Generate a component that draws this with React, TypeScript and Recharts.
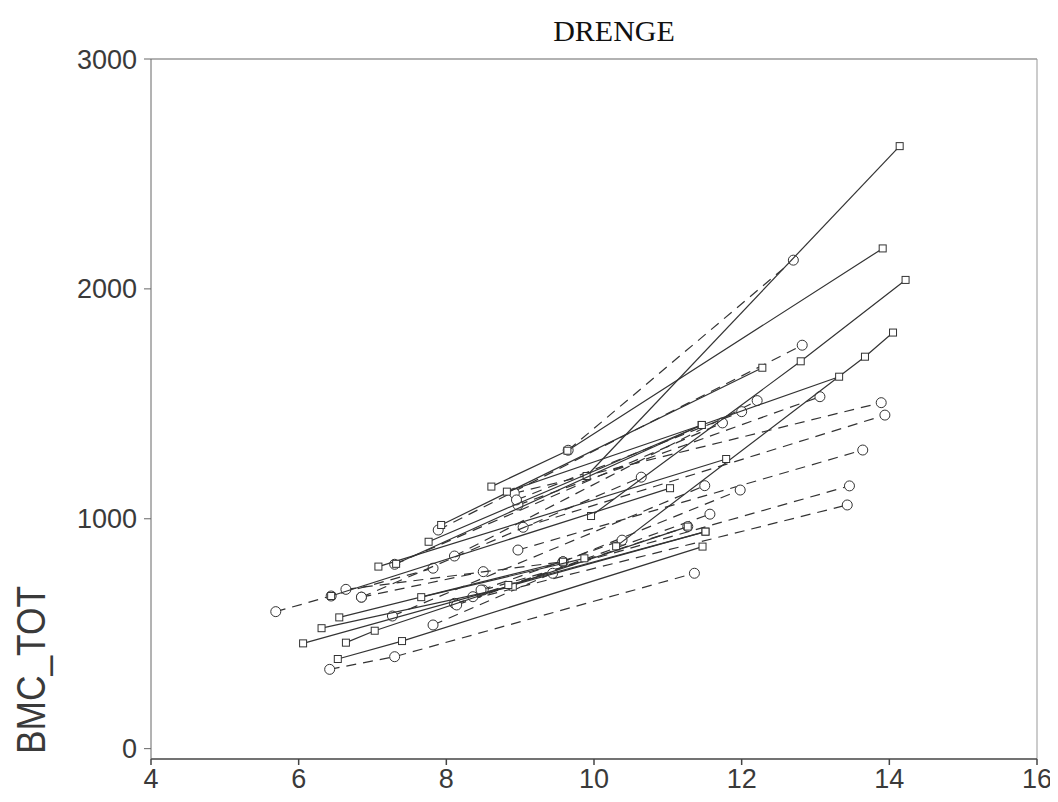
import React from 'react';
import { ScatterChart, Scatter, XAxis, YAxis, ReferenceLine } from 'recharts';

const ageTicks = [4, 6, 8, 10, 12, 14, 16];
const bmcTicks = [0, 1000, 2000, 3000];

// solid lines, square markers (one row per boy)
const solidAge = [
  [9.9, 14.14],
  [8.61, 9.64, 13.91],
  [9.96, 12.8, 14.22],
  [7.93, 12.28],
  [10.3, 13.67, 14.05],
  [7.76, 11.46, 13.32],
  [7.08, 11.79],
  [6.44, 11.03],
  [6.55, 9.58],
  [6.06, 11.51],
  [6.64, 7.03, 11.27],
  [6.53, 7.4, 11.47],
  [6.31, 8.9],
  [7.32, 11.46],
  [8.84, 11.51],
  [7.66, 9.87],
  [8.82, 11.46],
];
const solidBmc = [
  [1186, 2621],
  [1140, 1296, 2176],
  [1012, 1685, 2039],
  [973, 1657],
  [880, 1705, 1810],
  [900, 1408, 1618],
  [792, 1260],
  [664, 1133],
  [571, 813],
  [458, 944],
  [461, 513, 966],
  [390, 468, 879],
  [524, 705],
  [804, 1408],
  [712, 944],
  [659, 828],
  [1118, 1408],
];

// dashed lines, circle markers
const dashedAge = [
  [9.65, 12.7],
  [7.89, 12.82],
  [8.11, 12.21],
  [8.97, 13.06],
  [8.92, 13.89],
  [9.04, 13.94],
  [8.97, 13.64],
  [8.5, 13.46],
  [8.11, 13.43],
  [5.69, 6.44, 7.82],
  [6.42, 7.3, 11.36],
  [6.85, 8.5],
  [7.3, 11.74],
  [8.14, 11.57],
  [7.27, 11.5],
  [8.95, 12.0],
  [9.58, 11.98],
  [6.85, 10.64],
  [8.36, 11.27],
  [6.64, 9.58],
  [7.82, 9.44],
  [8.47, 10.38],
];
const dashedBmc = [
  [1298, 2125],
  [951, 1755],
  [838, 1514],
  [1060, 1531],
  [1111, 1505],
  [963, 1451],
  [864, 1299],
  [690, 1143],
  [632, 1060],
  [596, 664, 785],
  [345, 400, 763],
  [659, 770],
  [802, 1417],
  [625, 1020],
  [577, 1144],
  [1082, 1466],
  [813, 1125],
  [659, 1181],
  [661, 966],
  [693, 813],
  [538, 763],
  [690, 907],
];

const toPoints = (ages: number[], bmc: number[]) => ages.map((a, i) => ({ age: a, bmc: bmc[i] }));

const INK = '#333';

const Square = (props: any) => (
  <rect x={props.cx - 3.5} y={props.cy - 3.5} width={7} height={7} fill="#fff" stroke={INK} strokeWidth={1} />
);
const Ring = (props: any) => (
  <circle cx={props.cx} cy={props.cy} r={5} fill="#fff" stroke={INK} strokeWidth={1} />
);

const tickStyle = { fontFamily: '"Liberation Sans", Arial, sans-serif', fontSize: 27, fill: '#3a3a3a' };

export default function App() {
  return (
    <div style={{ position: 'relative', width: 1050, height: 786, background: '#fff' }}>
      <ScatterChart width={1050} height={786} margin={{ top: 51, right: 21, bottom: 5, left: 63 }}>
        <XAxis
          type="number"
          dataKey="age"
          domain={[4, 16]}
          ticks={ageTicks}
          tick={tickStyle}
          tickSize={6}
          tickMargin={4}
          height={30}
          stroke="#444"
          strokeWidth={1.5}
          allowDataOverflow
        />
        <YAxis
          type="number"
          dataKey="bmc"
          domain={[-45, 3000]}
          ticks={bmcTicks}
          tick={tickStyle}
          tickSize={7}
          tickMargin={7}
          width={80}
          stroke="#666"
          allowDataOverflow
        />
        <ReferenceLine y={3000} stroke="#666" strokeWidth={1.2} />
        <ReferenceLine x={16} stroke="#999" strokeWidth={1} />
        {dashedAge.map((ages, i) => (
          <Scatter
            key={`d${i}`}
            data={toPoints(ages, dashedBmc[i])}
            line={{ stroke: INK, strokeWidth: 1.2, strokeDasharray: '10 7' }}
            shape={Ring}
            isAnimationActive={false}
          />
        ))}
        {solidAge.map((ages, i) => (
          <Scatter
            key={`s${i}`}
            data={toPoints(ages, solidBmc[i])}
            line={{ stroke: INK, strokeWidth: 1.2 }}
            shape={Square}
            isAnimationActive={false}
          />
        ))}
      </ScatterChart>
      <svg width={1050} height={786} style={{ position: 'absolute', left: 0, top: 0, pointerEvents: 'none' }}>
        <text
          x={606}
          y={33}
          textAnchor="middle"
          style={{ fontFamily: '"Liberation Serif", "Times New Roman", serif', fontSize: 30, fill: '#111' }}
        >
          DRENGE
        </text>
        <text
          x={0}
          y={0}
          transform="translate(37 662) rotate(-90)"
          textAnchor="middle"
          textLength={168}
          lengthAdjust="spacingAndGlyphs"
          style={{ fontFamily: '"Liberation Sans", Arial, sans-serif', fontSize: 40, fill: '#3a3a3a' }}
        >
          BMC_TOT
        </text>
      </svg>
    </div>
  );
}
